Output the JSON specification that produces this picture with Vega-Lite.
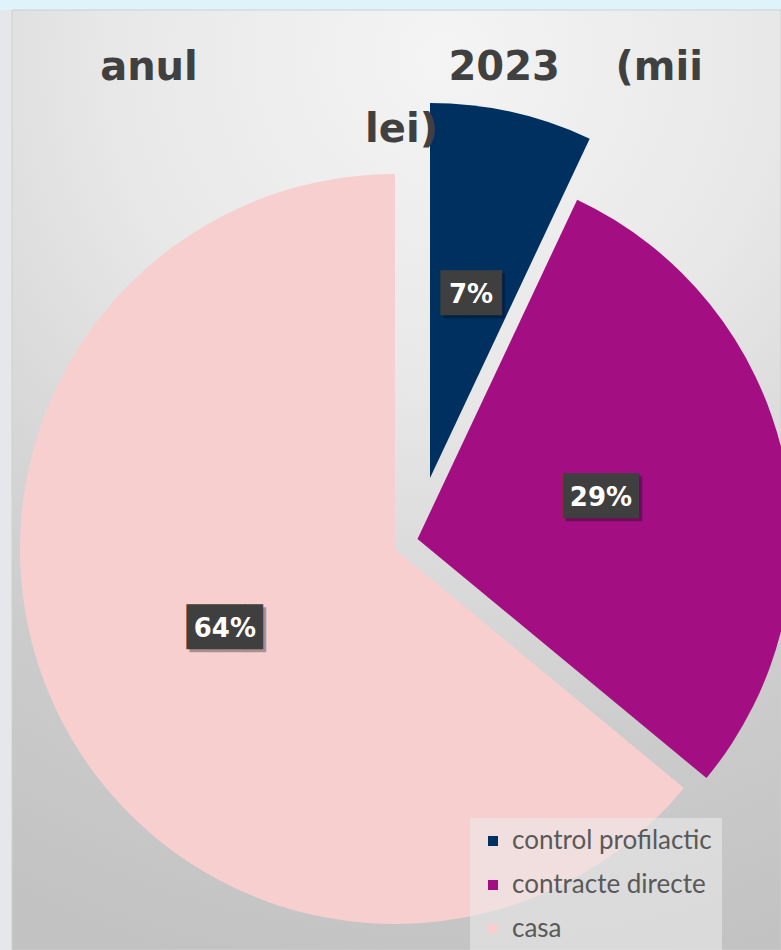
{
  "$schema": "https://vega.github.io/schema/vega-lite/v6.json",
  "width": 781,
  "height": 950,
  "autosize": "none",
  "padding": 0,
  "background": "#e5e7ea",
  "title": {
    "text": ["anul\u00a0\u00a0\u00a0\u00a0\u00a0\u00a0\u00a0\u00a0\u00a0\u00a0\u00a0\u00a0\u00a0\u00a0\u00a0\u00a0\u00a0\u00a02023\u00a0\u00a0\u00a0\u00a0(mii", "lei)"],
    "anchor": "middle",
    "font": "DejaVu Sans",
    "fontSize": 40,
    "fontWeight": "bold",
    "color": "#404040",
    "baseline": "alphabetic",
    "lineHeight": 62,
    "offset": 0,
    "dy": 182,
    "dx": 11
  },
  "data": {
    "values": [
      {"cat": "control profilactic", "v": 7, "label": "7%"},
      {"cat": "contracte directe", "v": 29, "label": "29%"},
      {"cat": "casa", "v": 64, "label": "64%"}
    ]
  },
  "layer": [
    {
      "data": {"values": [{}]},
      "mark": {"type": "rect", "x": 0, "y": 0, "x2": "width", "y2": 10, "color": "#dff3fb"},
      "encoding": {}
    },
    {
      "data": {"values": [{}]},
      "mark": {
        "type": "rect", "x": 12, "y": 10, "x2": "width", "y2": "height",
        "stroke": "#cfcfcf", "strokeWidth": 1,
        "color": {
          "gradient": "radial",
          "x1": 0.55, "y1": 0.05, "r1": 0,
          "x2": 0.55, "y2": 0.05, "r2": 1.0,
          "stops": [
            {"offset": 0, "color": "#f4f4f4"},
            {"offset": 0.35, "color": "#e8e8e8"},
            {"offset": 0.75, "color": "#cccccc"},
            {"offset": 1, "color": "#c2c2c2"}
          ]
        }
      },
      "encoding": {}
    },
    {
      "mark": {
        "type": "arc",
        "radius": 375,
        "xOffset": {"expr": "datum.cat === 'casa' ? 4.5 : datum.cat === 'contracte directe' ? 27 : 39.5"},
        "yOffset": {"expr": "datum.cat === 'casa' ? 74 : datum.cat === 'contracte directe' ? 64 : 3"}
      },
      "encoding": {
        "theta": {"field": "v", "type": "quantitative", "stack": true, "scale": {"domain": [0, 100]}},
        "order": {"field": "cat", "sort": "descending"},
        "color": {
          "field": "cat",
          "type": "nominal",
          "scale": {
            "domain": ["control profilactic", "contracte directe", "casa"],
            "range": ["#00305f", "#a30f82", "#f7cfcf"]
          },
          "legend": {
            "title": null,
            "orient": "none",
            "legendX": 470,
            "legendY": 818,
            "fillColor": "rgba(236,236,236,0.55)",
            "padding": 10,
            "symbolType": "square",
            "symbolSize": 100,
            "symbolStrokeWidth": 0,
            "labelFont": "Lato",
            "labelFontSize": 26,
            "labelColor": "#595959",
            "labelLimit": 400,
            "rowPadding": 18,
            "labelOffset": 6
          }
        }
      }
    },
    {
      "mark": {
        "type": "text",
        "radius": 188,
        "text": {"expr": "datum.cat === 'control profilactic' ? '██▏' : '██▋'"},
        "font": "DejaVu Sans",
        "fontSize": 38,
        "color": "#000000",
        "opacity": 0.3,
        "baseline": "middle",
        "align": "center",
        "dx": {"expr": "datum.cat === 'control profilactic' ? 16 : 8.5"},
        "dy": 3,
        "xOffset": {"expr": "datum.cat === 'casa' ? 4.5 : datum.cat === 'contracte directe' ? 27 : 39.5"},
        "yOffset": {"expr": "datum.cat === 'casa' ? 74 : datum.cat === 'contracte directe' ? 64 : 3"}
      },
      "encoding": {
        "theta": {"field": "v", "type": "quantitative", "stack": true, "scale": {"domain": [0, 100]}},
        "order": {"field": "cat", "sort": "descending"}
      }
    },
    {
      "mark": {
        "type": "text",
        "radius": 188,
        "text": {"expr": "datum.cat === 'control profilactic' ? '██▏' : '██▋'"},
        "font": "DejaVu Sans",
        "fontSize": 38,
        "color": "#3f3f3f",
        "baseline": "middle",
        "align": "center",
        "dx": {"expr": "datum.cat === 'control profilactic' ? 13 : 5.5"},
        "xOffset": {"expr": "datum.cat === 'casa' ? 4.5 : datum.cat === 'contracte directe' ? 27 : 39.5"},
        "yOffset": {"expr": "datum.cat === 'casa' ? 74 : datum.cat === 'contracte directe' ? 64 : 3"}
      },
      "encoding": {
        "theta": {"field": "v", "type": "quantitative", "stack": true, "scale": {"domain": [0, 100]}},
        "order": {"field": "cat", "sort": "descending"}
      }
    },
    {
      "mark": {
        "type": "text",
        "radius": 188,
        "font": "DejaVu Sans",
        "fontSize": 26,
        "fontWeight": "bold",
        "color": "#ffffff",
        "baseline": "middle",
        "align": "center",
        "xOffset": {"expr": "datum.cat === 'casa' ? 4.5 : datum.cat === 'contracte directe' ? 27 : 39.5"},
        "yOffset": {"expr": "datum.cat === 'casa' ? 74 : datum.cat === 'contracte directe' ? 64 : 3"}
      },
      "encoding": {
        "theta": {"field": "v", "type": "quantitative", "stack": true, "scale": {"domain": [0, 100]}},
        "order": {"field": "cat", "sort": "descending"},
        "text": {"field": "label", "type": "nominal"}
      }
    }
  ]
}
